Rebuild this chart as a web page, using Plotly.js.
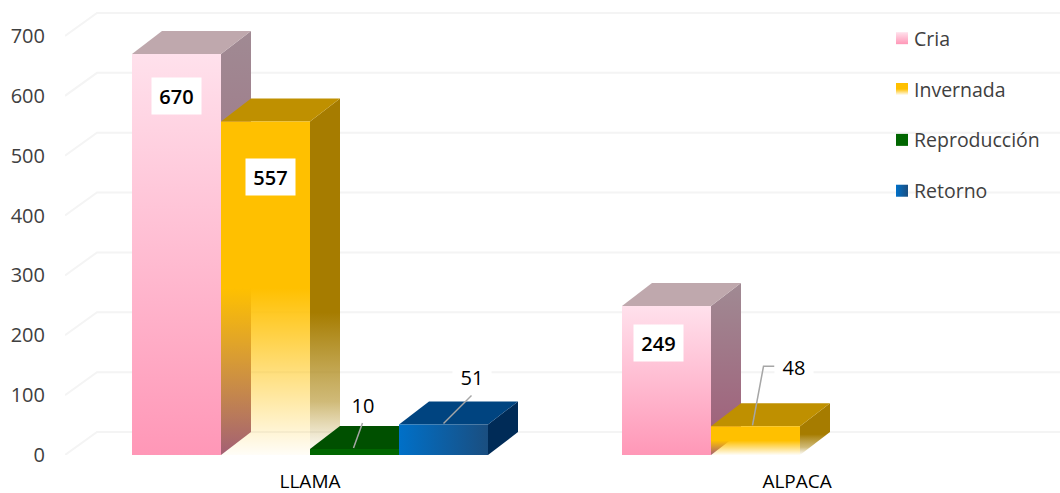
<!DOCTYPE html>
<html>
<head>
<meta charset="utf-8">
<script src="https://cdn.plot.ly/plotly-3.0.1.min.js"></script>
<style>html,body{margin:0;padding:0;background:#fff}#chart{width:1060px;height:493px}</style>
</head>
<body>
<div id="chart"></div>
<script>
// ---- data ----
const categories = ["LLAMA", "ALPACA"];
const seriesNames = ["Cria", "Invernada", "Reproducción", "Retorno"];
const cria = [670, 249];
const invernada = [557, 48];
const reproduccion = [10];
const retorno = [51];
const yTicks = [0, 100, 200, 300, 400, 500, 600, 700];

// ---- scales ----
const allSeries = [cria, invernada, reproduccion, retorno];
const W = 1060, H = 493, mL = 65, mB = 38, catPx = 490;
const plotH = H - mB, yPerPx = 760.1 / plotH, xPerPx = 1 / catPx;
const xRange = [-0.5, -0.5 + (W - mL) / catPx], yRange = [0, 760.1];
const depthX = 30 * xPerPx, depthY = 23 * yPerPx;
const gap = 134 / 490, barW = (1 - gap) / allSeries.length;
const barLeft = (cat, s) => cat - 2 * barW + s * barW;

const sideStyles = [
  {vert: [[0, "rgb(160,138,147)"], [1, "rgb(160,92,120)"]]},
  {vert: [[0, "rgba(166,124,0,1)"], [0.6, "rgba(166,124,0,1)"], [0.85, "rgba(176,140,30,0.6)"], [1, "rgba(190,160,60,0)"]]},
  {solid: "rgb(0,70,0)"},
  {solid: "rgb(0,43,87)"}
];
const capStyles = ["rgb(191,168,173)", "rgb(191,144,0)", "rgb(0,80,0)", "rgb(0,68,128)"];

const traces = [];
const noHover = {hoverinfo: "skip", showlegend: false, mode: "lines"};

// back wall grid lines, with the slanted return to the axis
yTicks.forEach(v => traces.push(Object.assign({
  type: "scatter", x: [xRange[0], xRange[0] + depthX * 32 / 30, xRange[1]],
  y: [v, v + depthY, v + depthY], line: {color: "#F4F4F4", width: 2}
}, noHover)));

// side faces, then top faces
allSeries.forEach((vals, s) => vals.forEach((v, c) => {
  const l = barLeft(c, s), r = l + barW, st = sideStyles[s];
  const side = {type: "scatter", x: [r, r + depthX, r + depthX, r, r], y: [0, depthY, v + depthY, v, 0],
    fill: "toself", line: {width: 0}, xaxis: "x", yaxis: "y"};
  if (st.vert) {
    side.fillgradient = {type: "vertical", colorscale: st.vert, start: v + depthY, stop: 0};
  } else side.fillcolor = st.solid;
  traces.push(Object.assign(side, noHover));
}));
allSeries.forEach((vals, s) => vals.forEach((v, c) => {
  const l = barLeft(c, s), r = l + barW;
  traces.push(Object.assign({type: "scatter", x: [l, r, r + depthX, l + depthX, l], y: [v, v, v + depthY, v + depthY, v],
    fill: "toself", fillcolor: capStyles[s], line: {width: 0}}, noHover));
}));

// front faces: real bars, on an overlaid subplot so they sit above the faces behind them
allSeries.forEach((vals, s) => traces.push({
  type: "bar", name: seriesNames[s], x: vals.map((_, c) => c), y: vals,
  xaxis: "x2", yaxis: "y2", legendgroup: seriesNames[s],
  marker: {color: ["#FFC0D5", "#FFC000", "#006600", "#0070C0"][s], line: {width: 0}}, hoverinfo: "x+y+name"
}));

// leader lines (pixel offsets from the top of each bar's centre)
const leaders = [
  {s: 2, c: 0, pts: [[-1, 1], [8, 26]]},
  {s: 3, c: 0, pts: [[0, 1], [28, 29]]},
  {s: 1, c: 1, pts: [[-3, 1], [8, 60], [19, 60]]}
];
leaders.forEach(k => {
  const v = allSeries[k.s][k.c], cx = barLeft(k.c, k.s) + barW / 2;
  traces.push(Object.assign({type: "scatter", xaxis: "x2", yaxis: "y2",
    x: k.pts.map(p => cx + p[0] * xPerPx), y: k.pts.map(p => v + p[1] * yPerPx),
    line: {color: "#A6A6A6", width: 1.5}}, noHover));
});

// data labels (pixel offsets from bar top centre)
const boxFont = {family: "Open Sans, sans-serif", size: 20, color: "#000", weight: 600};
const plainFont = {family: "Open Sans, sans-serif", size: 20, color: "#000", weight: 500};
const labels = [
  {s: 0, c: 0, dx: 0, dy: -42, box: true},
  {s: 1, c: 0, dx: 5, dy: -55, box: true},
  {s: 0, c: 1, dx: -8, dy: -37, box: true},
  {s: 2, c: 0, dx: 8, dy: 44},
  {s: 3, c: 0, dx: 28, dy: 47},
  {s: 1, c: 1, dx: 38, dy: 59}
];
const annotations = labels.map(a => {
  const v = allSeries[a.s][a.c];
  const o = {xref: "x2", yref: "y2", x: barLeft(a.c, a.s) + barW / 2, y: v, xshift: a.dx, yshift: a.dy,
    text: String(v), showarrow: false, font: a.box ? boxFont : plainFont, bgcolor: "#fff", xanchor: "center", yanchor: "middle",
    borderpad: 0};
  if (a.box) { o.width = 49; o.height = 36; } else { o.width = 38; o.height = 28; }
  return o;
});

const layout = {
  width: W, height: H, margin: {l: mL, r: 0, t: 0, b: mB, pad: 0},
  paper_bgcolor: "#fff", plot_bgcolor: "rgba(0,0,0,0)",
  barmode: "group", bargap: gap, bargroupgap: 0, showlegend: true,
  font: {family: "Open Sans, sans-serif", color: "#404040"},
  xaxis: {type: "linear", range: xRange, tickmode: "array", tickvals: [0, 0.994], ticktext: categories,
    showgrid: false, zeroline: false, showline: false, ticks: "", ticklabelstandoff: 13,
    tickfont: {family: "Open Sans, sans-serif", size: 19, color: "#000"}, fixedrange: true},
  yaxis: {range: yRange, tickmode: "array", tickvals: yTicks, showgrid: false, zeroline: false, showline: false,
    ticks: "", ticklabelstandoff: 19, tickfont: {family: "Open Sans, sans-serif", size: 20, color: "#404040"}, fixedrange: true},
  xaxis2: {type: "linear", range: xRange, overlaying: "x", visible: false, fixedrange: true},
  yaxis2: {range: yRange, overlaying: "y", visible: false, fixedrange: true},
  legend: {x: (882 - mL) / (W - mL), y: 1 - 19 / plotH, xanchor: "left", yanchor: "top", bgcolor: "rgba(0,0,0,0)",
    font: {family: "Open Sans, sans-serif", size: 19.5, color: "#404040"}, tracegroupgap: 22.5, traceorder: "grouped", borderwidth: 0},
  annotations: annotations
};

Plotly.newPlot("chart", traces, layout, {displayModeBar: false}).then(gd => {
  const NS = "http://www.w3.org/2000/svg";
  const defs = gd.querySelector(".main-svg defs");
  const grads = [
    {id: "gCria", x2: 0, y2: 1, stops: [[0, "#FFE1EC", 1], [1, "#FF97B7", 1]]},
    {id: "gInv", x2: 0, y2: 1, stops: [[0, "#FFC000", 1], [0.5, "#FFC000", 1], [1, "#FFC000", 0.03]]},
    {id: "gRep", x2: 0, y2: 1, stops: [[0, "#006600", 1], [1, "#006600", 1]]},
    {id: "gRet", x2: 1, y2: 0, stops: [[0, "#0070C8", 1], [1, "#1A4E80", 1]]}
  ];
  grads.forEach(g => {
    const el = document.createElementNS(NS, "linearGradient");
    el.setAttribute("id", g.id);
    el.setAttribute("x1", 0); el.setAttribute("y1", 0);
    el.setAttribute("x2", g.x2); el.setAttribute("y2", g.y2);
    g.stops.forEach(t => {
      const st = document.createElementNS(NS, "stop");
      st.setAttribute("offset", t[0]); st.setAttribute("stop-color", t[1]); st.setAttribute("stop-opacity", t[2]);
      el.appendChild(st);
    });
    defs.appendChild(el);
  });
  const paint = (p, i) => { p.style.fill = "url(#" + grads[i].id + ")"; p.style.fillOpacity = 1; };
  gd.querySelectorAll(".barlayer .trace.bars").forEach((t, i) => t.querySelectorAll("path").forEach(p => paint(p, i)));
  gd.querySelectorAll(".legend .traces").forEach((t, i) => {
    t.querySelectorAll(".legendpoints path").forEach(p => paint(p, i));
    const txt = t.querySelector(".legendtext");
    if (txt) txt.setAttribute("x", 32);
  });
});
</script>
</body>
</html>
